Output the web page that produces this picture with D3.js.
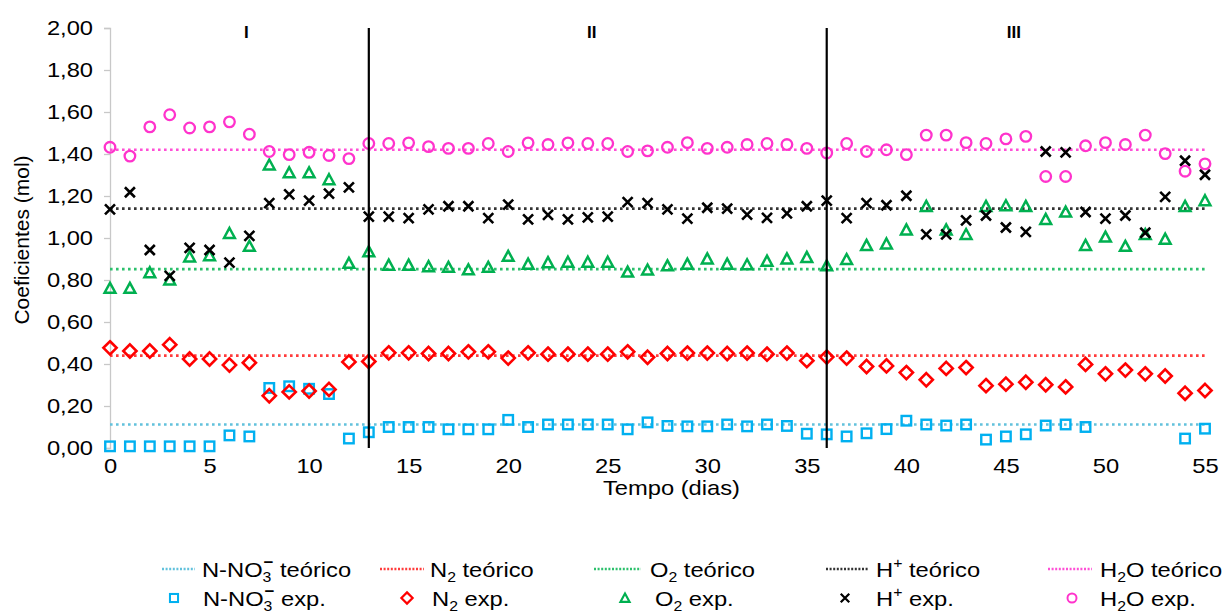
<!DOCTYPE html>
<html><head><meta charset="utf-8">
<script src="https://cdn.jsdelivr.net/npm/d3@7"></script>
<style>
body{margin:0;background:#fff}
text{font-family:"Liberation Sans",Arial,sans-serif;fill:#000}
</style>
</head><body>
<svg id="c" width="1223" height="612"></svg>
<script>
// ---------- data ----------
const days = d3.range(0, 56);
const xTicks = [0,5,10,15,20,25,30,35,40,45,50,55];
const yTicks = [0,0.2,0.4,0.6,0.8,1.0,1.2,1.4,1.6,1.8,2.0];
const phaseBreaks = [13, 36];
const phaseLabels = ["I","II","III"];
const phaseLabelDays = [6.85, 24.2, 45.4];

const no3Exp = [0.008,0.008,0.008,0.008,0.008,0.008,0.06,0.055,0.286,0.294,0.282,0.257,0.045,0.075,
  0.10,0.10,0.10,0.089,0.089,0.089,0.134,0.10,0.112,0.112,0.112,0.112,0.089,0.122,
  0.105,0.103,0.103,0.112,0.103,0.112,0.105,0.068,0.065,0.055,0.07,0.09,0.13,0.112,0.107,0.112,
  0.04,0.055,0.065,0.107,0.112,0.10,null,null,null,null,0.045,0.092];
const n2Exp = [0.477,0.462,0.462,0.492,0.424,0.424,0.395,0.406,0.249,0.267,0.271,0.279,0.410,0.412,
  0.453,0.453,0.450,0.450,0.458,0.458,0.428,0.453,0.447,0.447,0.447,0.447,0.458,0.432,
  0.450,0.452,0.452,0.450,0.452,0.447,0.452,0.416,0.433,0.428,0.388,0.391,0.359,0.325,0.379,0.383,
  0.297,0.304,0.313,0.301,0.291,0.398,0.353,0.371,0.353,0.343,0.261,0.274];
const o2Exp = [0.761,0.761,0.835,0.801,0.910,0.916,1.022,0.961,1.348,1.311,1.311,1.278,0.880,0.935,
  0.871,0.871,0.864,0.861,0.849,0.861,0.913,0.876,0.883,0.885,0.885,0.885,0.838,0.848,
  0.868,0.876,0.901,0.876,0.873,0.890,0.901,0.908,0.868,0.898,0.965,0.972,1.039,1.151,1.039,1.017,
  1.151,1.154,1.151,1.089,1.124,0.965,1.005,0.961,1.017,0.995,1.151,1.178];
const hExp = [1.136,1.218,0.943,0.820,0.953,0.943,0.883,1.010,1.166,1.208,1.178,1.211,1.241,1.102,
  1.102,1.095,1.136,1.151,1.151,1.095,1.159,1.089,1.110,1.089,1.098,1.102,1.171,1.166,
  1.136,1.092,1.144,1.140,1.111,1.096,1.117,1.151,1.178,1.095,1.166,1.156,1.201,1.017,1.017,1.084,
  1.107,1.050,1.029,1.412,1.408,1.124,1.092,1.107,1.025,1.196,1.368,1.301];
const h2oExp = [1.432,1.390,1.529,1.587,1.524,1.529,1.553,1.494,1.412,1.397,1.408,1.393,1.378,1.450,
  1.450,1.453,1.435,1.427,1.427,1.450,1.412,1.453,1.445,1.453,1.450,1.450,1.412,1.415,
  1.432,1.454,1.427,1.432,1.445,1.450,1.445,1.427,1.405,1.450,1.412,1.420,1.397,1.490,1.490,1.454,
  1.450,1.472,1.484,1.293,1.293,1.439,1.454,1.445,1.490,1.402,1.318,1.353];
const theoNames = ["no3","n2","o2","h","h2o"];
const theoValues = [0.112, 0.44, 0.852, 1.14, 1.42];

// ---------- styles ----------
const theoColors = {no3:"#62c1dc", n2:"#ff3b3b", o2:"#2cc06c", h:"#333333", h2o:"#ff4fd6"};
const expColors = {no3:"#00b0f0", n2:"#ff0000", o2:"#00b050", h:"#000000", h2o:"#ff33cc"};
const FONT = "'Liberation Sans',Arial,sans-serif";
const SX = 1.13; // horizontal stretch of texts in the reference

const svg = d3.select("#c");
const x = d3.scaleLinear().domain([0,55]).range([110,1205]);
const y = d3.scaleLinear().domain([0,2]).range([448,28]);

// y axis
const yAxis = d3.axisLeft(y).tickValues(yTicks).tickSize(6).tickPadding(9)
  .tickFormat(d => d3.format(".2f")(d).replace(".", ","));
const gy = svg.append("g").attr("transform","translate(110,0)").call(yAxis);
gy.select(".domain").attr("stroke","#c8c8c8").attr("stroke-width",1.3);
gy.selectAll(".tick line").attr("stroke","#c8c8c8").attr("stroke-width",1.3);
gy.selectAll(".tick text").style("font-size","21px").style("font-family",FONT).attr("fill","#000")
  .attr("transform",`scale(${SX},1)`);

// x axis (labels only)
const xAxis = d3.axisBottom(x).tickValues(xTicks).tickSize(0).tickPadding(10).tickFormat(d3.format("d"));
const gx = svg.append("g").attr("transform","translate(0,448)").call(xAxis);
gx.select(".domain").remove();
gx.selectAll(".tick text").style("font-size","21px").style("font-family",FONT).attr("fill","#000")
  .attr("transform",`scale(${SX},1)`);

// axis titles
svg.append("text").attr("transform",`translate(${x(28.2)},495) scale(${SX},1)`).attr("text-anchor","middle")
  .style("font-size","21px").text("Tempo (dias)");
svg.append("text").attr("transform","translate(29,240) rotate(-90)").attr("text-anchor","middle")
  .style("font-size","21px").text("Coeficientes (mol)");

// theoretical dotted lines
theoNames.forEach((n,i) => {
  svg.append("line").attr("x1", x(0)).attr("x2", x(55))
    .attr("y1", y(theoValues[i])).attr("y2", y(theoValues[i]))
    .attr("stroke", theoColors[n]).attr("stroke-width", 2.6).attr("stroke-dasharray","2.6,3.4");
});

// markers
function drawMarker(g, type, cx, cy, color, s) {
  s = s || 1;
  if (type === "no3") {
    const a = 9.5*s;
    g.append("rect").attr("x", cx-a/2).attr("y", cy-a/2).attr("width", a).attr("height", a)
      .attr("fill","none").attr("stroke", color).attr("stroke-width", 2.4*s);
  } else if (type === "n2") {
    const a = 6.6*s;
    g.append("path").attr("d", `M${cx},${cy-a}L${cx+a},${cy}L${cx},${cy+a}L${cx-a},${cy}Z`)
      .attr("fill","none").attr("stroke", color).attr("stroke-width", 2.6*s);
  } else if (type === "o2") {
    const a = 5.4*s;
    g.append("path").attr("d", `M${cx},${cy-a}L${cx+a},${cy+a*0.85}L${cx-a},${cy+a*0.85}Z`)
      .attr("fill","none").attr("stroke", color).attr("stroke-width", 2.5*s);
  } else if (type === "h") {
    const a = 5*s;
    g.append("path").attr("d", `M${cx-a},${cy-a}L${cx+a},${cy+a}M${cx-a},${cy+a}L${cx+a},${cy-a}`)
      .attr("stroke", color).attr("stroke-width", 2.6*s);
  } else if (type === "h2o") {
    g.append("circle").attr("cx", cx).attr("cy", cy).attr("r", 5.3*s)
      .attr("fill","none").attr("stroke", color).attr("stroke-width", 2.3*s);
  }
}

const series = [["no3", no3Exp],["n2", n2Exp],["o2", o2Exp],["h", hExp],["h2o", h2oExp]];
series.forEach(([n, vals]) => {
  const g = svg.append("g");
  days.forEach((d,i) => {
    if (vals[i] == null) return;
    drawMarker(g, n, x(d), y(vals[i]), expColors[n]);
  });
});

// phase separators
phaseBreaks.forEach(b => {
  svg.append("line").attr("x1", x(b)).attr("x2", x(b)).attr("y1", y(2)).attr("y2", y(0))
    .attr("stroke","#000").attr("stroke-width",2.2);
});
phaseLabels.forEach((t,i) => {
  svg.append("text").attr("x", x(phaseLabelDays[i])).attr("y", 38).attr("text-anchor","middle")
    .style("font-size","17px").style("font-weight","bold").text(t);
});

// legend
const leg = svg.append("g");
const row1 = 569, row2 = 598;
// parts: [text, kind]; kinds: null=base, "sub", "sup", "stack" (superscript over previous subscript)
const labelsTheo = [
  [["N-NO",null],["3","sub"],["−","stack"],[" teórico",null]],
  [["N",null],["2","sub"],[" teórico",null]],
  [["O",null],["2","sub"],[" teórico",null]],
  [["H",null],["+","sup"],[" teórico",null]],
  [["H",null],["2","sub"],["O",null],[" teórico",null]]
];
const labelsExp = [
  [["N-NO",null],["3","sub"],["−","stack"],[" exp.",null]],
  [["N",null],["2","sub"],[" exp.",null]],
  [["O",null],["2","sub"],[" exp.",null]],
  [["H",null],["+","sup"],[" exp.",null]],
  [["H",null],["2","sub"],["O",null],[" exp.",null]]
];
const SUB = 5, SUP = -9;
function drawLabel(xPos, yPos, parts){
  const t = leg.append("text").attr("transform",`translate(${xPos},${yPos + 7.5}) scale(${SX},1)`)
    .style("font-size","21px");
  let cur = 0;
  parts.forEach(p => {
    const ts = t.append("tspan").text(p[0]);
    let target = 0;
    if (p[1] === "sub") { target = SUB; ts.style("font-size","14px"); }
    else if (p[1] === "sup") { target = SUP; ts.style("font-size","14px"); }
    else if (p[1] === "stack") { target = SUP - 1; ts.style("font-size","15px").style("font-weight","bold").attr("dx", -7); }
    ts.attr("dy", target - cur);
    cur = target;
  });
}
const theoLine = [[162,195,202],[380,424,430],[594,641,650],[826,869,876],[1048,1092,1100]];
const expMark = [[174,203],[407,432],[625,655],[845,876],[1072,1100]];
theoNames.forEach((n,i) => {
  leg.append("line").attr("x1", theoLine[i][0]).attr("x2", theoLine[i][1]).attr("y1", row1).attr("y2", row1)
    .attr("stroke", theoColors[n]).attr("stroke-width", 2.4).attr("stroke-dasharray","2,1.6");
  drawLabel(theoLine[i][2], row1, labelsTheo[i]);
  drawMarker(leg, n, expMark[i][0], row2, expColors[n], 0.85);
  drawLabel(expMark[i][1], row2, labelsExp[i]);
});
</script>
</body></html>
